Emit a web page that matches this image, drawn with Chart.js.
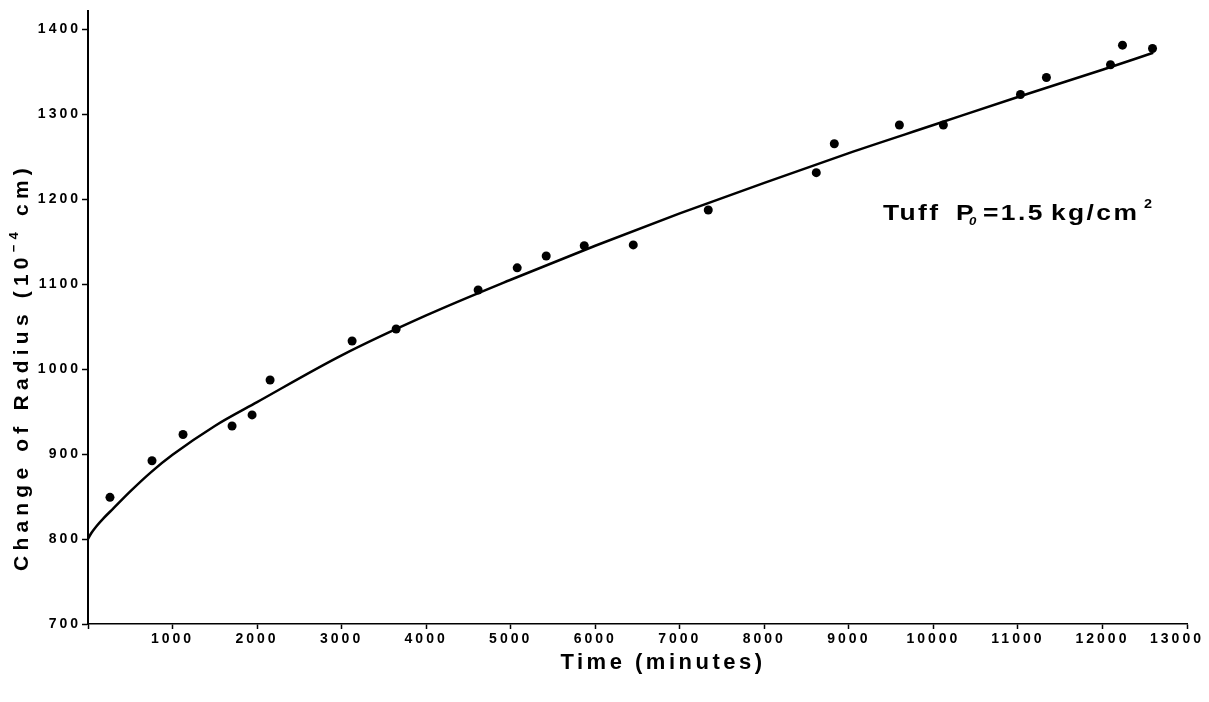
<!DOCTYPE html>
<html>
<head>
<meta charset="utf-8">
<script src="https://cdn.jsdelivr.net/npm/chart.js@4/dist/chart.umd.min.js"></script>
<style>
  body { margin: 0; background: #fff; }
  #wrap { width: 1209px; height: 702px; }
</style>
</head>
<body>
<div id="wrap"><canvas id="chart" width="1209" height="702"></canvas></div>
<script>
// measured points (time in minutes, change of radius in 1e-4 cm)
var timeMin = [260, 757, 1124, 1704, 1941, 2154, 3124, 3645, 4615, 5077, 5420, 5870,
               6450, 7337, 8615, 8828, 9598, 10118, 11030, 11337, 12095, 12237, 12592];
var radiusChange = [849, 892, 923, 933, 946, 987, 1033, 1047, 1093, 1119, 1133, 1145,
                    1146, 1187, 1231, 1265, 1287, 1287, 1323, 1343, 1358, 1381, 1377];

// fitted curve
var fitTime = [0, 40, 100, 180, 300, 500, 750, 1000, 1500, 2000, 3000, 4000, 5000, 6000, 7000,
               8000, 9000, 10000, 11000, 12000, 12600];
var fitRadius = [800, 807, 815, 824, 836, 856, 879, 899, 933, 961, 1016, 1063, 1105, 1145, 1183,
                 1219, 1254, 1287, 1320, 1352, 1372];

var xTickLabels = [1000, 2000, 3000, 4000, 5000, 6000, 7000, 8000, 9000, 10000, 11000, 12000, 13000];
var yTickLabels = [700, 800, 900, 1000, 1100, 1200, 1300, 1400];

var FONT = '"Liberation Sans", Arial, Helvetica, sans-serif';

function toXY(xs, ys) {
    return xs.map(function (x, i) { return { x: x, y: ys[i] }; });
}

// text drawn a little wider, like the lettering of the original
function wideText(ctx, text, x, y) {
    ctx.save();
    ctx.translate(x, y);
    ctx.scale(1.2, 1);
    ctx.fillText(text, 0, 0);
    ctx.restore();
}

var textPlugin = {
    id: 'texts',
    beforeDraw: function (chart) {
        chart.ctx.letterSpacing = '3px';
    },
    afterDraw: function (chart) {
        var ctx = chart.ctx;
        var area = chart.chartArea;
        ctx.save();
        ctx.fillStyle = '#000';
        ctx.strokeStyle = '#000';

        // y axis runs a bit above the top tick
        ctx.lineWidth = 2;
        ctx.beginPath();
        ctx.moveTo(area.left, area.top);
        ctx.lineTo(area.left, area.top - 19);
        ctx.stroke();

        // x title
        ctx.letterSpacing = '3.5px';
        ctx.font = 'bold 22px ' + FONT;
        ctx.textAlign = 'center';
        ctx.textBaseline = 'middle';
        ctx.fillText('Time (minutes)', 663, 663);

        // y title with superscript
        ctx.letterSpacing = '5.2px';
        ctx.textAlign = 'left';
        ctx.textBaseline = 'alphabetic';
        var big = 'bold 21px ' + FONT, small = 'bold 13px ' + FONT;
        var p1 = 'Change of Radius (10', p2 = '\u2212' + '4', p3 = ' cm)';
        ctx.font = big;
        var w1 = ctx.measureText(p1).width, w3 = ctx.measureText(p3).width;
        ctx.font = small;
        var w2 = ctx.measureText(p2).width;
        var total = w1 + w2 + w3;
        ctx.translate(28, 367);
        ctx.rotate(-Math.PI / 2);
        var x0 = -total / 2;
        ctx.font = big;
        ctx.fillText(p1, x0, 0);
        ctx.font = small;
        ctx.fillText(p2, x0 + w1, -10);
        ctx.font = big;
        ctx.fillText(p3, x0 + w1 + w2, 0);
        ctx.restore();

        // annotation
        ctx.save();
        ctx.fillStyle = '#000';
        ctx.letterSpacing = '2px';
        ctx.textAlign = 'left';
        ctx.textBaseline = 'alphabetic';
        ctx.font = 'bold 22px ' + FONT;
        wideText(ctx, 'Tuff', 883, 220);
        wideText(ctx, 'P', 956, 220);
        wideText(ctx, '=1.5', 983, 220);
        wideText(ctx, 'kg/cm', 1051, 220);
        ctx.font = 'bold italic 11px ' + FONT;
        wideText(ctx, '0', 969, 225);
        ctx.font = 'bold 12px ' + FONT;
        wideText(ctx, '2', 1144, 208);
        ctx.restore();
    }
};

new Chart(document.getElementById('chart').getContext('2d'), {
    type: 'scatter',
    data: {
        datasets: [{
            label: 'measured',
            data: toXY(timeMin, radiusChange),
            showLine: false,
            pointRadius: 4.5,
            pointBackgroundColor: '#000',
            pointBorderColor: '#000',
            pointBorderWidth: 0
        }, {
            label: 'fit',
            data: toXY(fitTime, fitRadius),
            showLine: true,
            borderColor: '#000',
            borderWidth: 2.5,
            pointRadius: 0,
            cubicInterpolationMode: 'monotone',
            fill: false
        }]
    },
    options: {
        responsive: false,
        animation: false,
        events: [],
        layout: { padding: { left: 0, right: 22, top: 29, bottom: 0 } },
        plugins: { legend: { display: false }, tooltip: { enabled: false } },
        scales: {
            x: {
                type: 'linear',
                min: 0,
                max: 13000,
                afterBuildTicks: function (scale) {
                    scale.ticks = [{ value: 0 }].concat(xTickLabels.map(function (v) { return { value: v }; }));
                },
                afterFit: function (scale) {
                    scale.height = 78;
                    scale.paddingLeft = 0;
                    scale.paddingRight = 0;
                },
                ticks: {
                    color: '#000',
                    font: { family: FONT, size: 14, weight: 'bold' },
                    padding: 2,
                    maxRotation: 0,
                    autoSkip: false,
                    callback: function (v) {
                        if (v === 0) return '';
                        // last label sits a little left of its tick, as in the original
                        return v === 13000 ? String(v) + '\u2002\u2002' : String(v);
                    }
                },
                grid: { drawOnChartArea: false, color: '#000', tickLength: 5, tickWidth: 1.5 },
                border: { color: '#000', width: 1.5 }
            },
            y: {
                type: 'linear',
                min: 700,
                max: 1400,
                afterBuildTicks: function (scale) {
                    scale.ticks = yTickLabels.map(function (v) { return { value: v }; });
                },
                afterFit: function (scale) {
                    scale.width = 88;
                    scale.paddingTop = 0;
                    scale.paddingBottom = 0;
                },
                ticks: {
                    color: '#000',
                    font: { family: FONT, size: 14, weight: 'bold' },
                    padding: 1,
                    autoSkip: false,
                    callback: function (v) { return String(v); }
                },
                grid: { drawOnChartArea: false, color: '#000', tickLength: 6, tickWidth: 1.5 },
                border: { color: '#000', width: 2 }
            }
        }
    },
    plugins: [textPlugin]
});
</script>
</body>
</html>
